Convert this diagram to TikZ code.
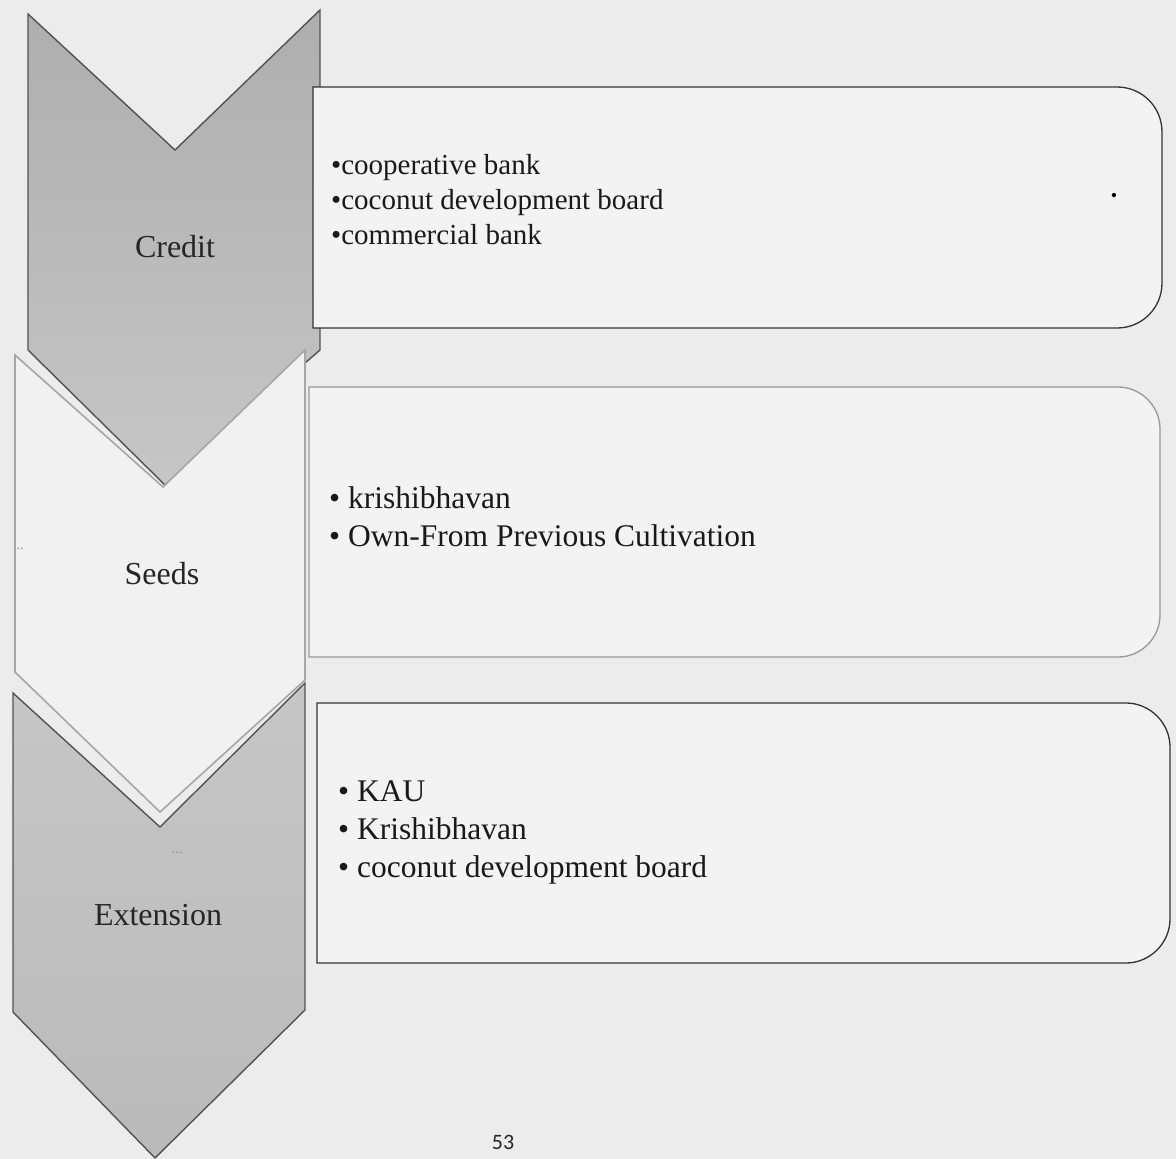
\documentclass[tikz,border=0pt]{standalone}
\usepackage{fontspec}
\setmainfont{Liberation Serif}
\newfontfamily\pagefont{Carlito}
\definecolor{bgcol}{HTML}{ECECEC}
\definecolor{boxfill}{HTML}{F3F3F3}
\definecolor{chevA}{HTML}{AEAEAE}
\definecolor{chevB}{HTML}{C6C6C6}
\definecolor{chevC}{HTML}{BABABA}
\definecolor{seedfill}{HTML}{F1F1F1}
\begin{document}
\begin{tikzpicture}[x=1pt,y=-1pt,
  chevline/.style={draw=black!68,line width=1.4pt,line join=miter},
  seedline/.style={draw=black!35,line width=1.6pt,line join=miter},
  boxline/.style={draw=black!80,line width=1.3pt,fill=boxfill},
  fadedbox/.style={draw=black!40,line width=1.3pt,fill=boxfill},
  lbl/.style={font=\fontsize{32}{38}\selectfont,text=black!85,inner sep=0pt,anchor=base},
  itemA/.style={font=\fontsize{29}{35}\selectfont,anchor=base west,inner sep=0pt,text=black!90},
  itemB/.style={font=\fontsize{31.5}{38}\selectfont,anchor=base west,inner sep=0pt,text=black!90},
  speck/.style={font=\fontsize{14}{14}\selectfont,text=black!45,inner sep=0pt,anchor=base}]
\useasboundingbox (0,0) rectangle (1176,1159);
\clip (0,0) rectangle (1176,1159);
\fill[bgcol] (0,0) rectangle (1176,1159);

% Credit chevron
\shade[top color=chevA,bottom color=chevB] (28,14) -- (175,150) -- (320,10) -- (320,350) -- (165,485) -- (28,350) -- cycle;
\draw[chevline] (28,14) -- (175,150) -- (320,10) -- (320,350) -- (165,485) -- (28,350) -- cycle;

% Extension chevron
\shade[top color=chevB,bottom color=chevC] (13,693) -- (160,827) -- (305,683) -- (305,1010) -- (155,1158) -- (13,1012) -- cycle;
\draw[chevline] (13,693) -- (160,827) -- (305,683) -- (305,1010) -- (155,1158) -- (13,1012) -- cycle;

% Seeds chevron
\fill[seedfill] (15,355) -- (163,487) -- (305,350) -- (305,680) -- (160,812) -- (15,672) -- cycle;
\draw[seedline] (15,355) -- (163,487) -- (305,350) -- (305,680) -- (160,812) -- (15,672) -- cycle;

% Boxes
\draw[boxline] (313,87) -- (1117,87) .. controls (1142,87) and (1162,107) .. (1162,132) -- (1162,283) .. controls (1162,308) and (1142,328) .. (1117,328) -- (313,328) -- cycle;
\draw[fadedbox] (309,387) -- (1118,387) .. controls (1141,387) and (1160,406) .. (1160,429) -- (1160,615) .. controls (1160,638) and (1141,657) .. (1118,657) -- (309,657) -- cycle;
\draw[boxline] (317,703) -- (1126,703) .. controls (1150,703) and (1170,723) .. (1170,747) -- (1170,919) .. controls (1170,943) and (1150,963) .. (1126,963) -- (317,963) -- cycle;

% Chevron labels
\node[lbl] (credit) at (175,257) {Credit};
\node[lbl] (seeds) at (162,584) {Seeds};
\node[lbl] (ext) at (158,925) {Extension};

% Box 1 items
\node[itemA] (c1) at (331,174) {•cooperative bank};
\node[itemA] (c2) at (331,209) {•coconut development board};
\node[itemA] (c3) at (331,244) {•commercial bank};
\node[font=\fontsize{18}{18}\selectfont,inner sep=0pt,anchor=base] (cdot) at (1114,201) {•};

% Box 2 items
\node[itemB] (s1) at (329,508) {•\hspace{8pt}krishibhavan};
\node[itemB] (s2) at (329,546) {•\hspace{8pt}Own-From Previous Cultivation};

% Box 3 items
\node[itemB] (e1) at (338,801) {•\hspace{8pt}KAU};
\node[itemB] (e2) at (338,839) {•\hspace{8pt}Krishibhavan};
\node[itemB] (e3) at (338,877) {•\hspace{8pt}coconut development board};

% scan specks
\node[speck] (sp1) at (177,853) {...};
\node[speck] (sp2) at (20,549) {..};

% page number
\node[font=\pagefont\fontsize{22}{22}\selectfont,inner sep=0pt,anchor=base,text=black!85] (pg) at (503,1149) {53};
\end{tikzpicture}
\end{document}
